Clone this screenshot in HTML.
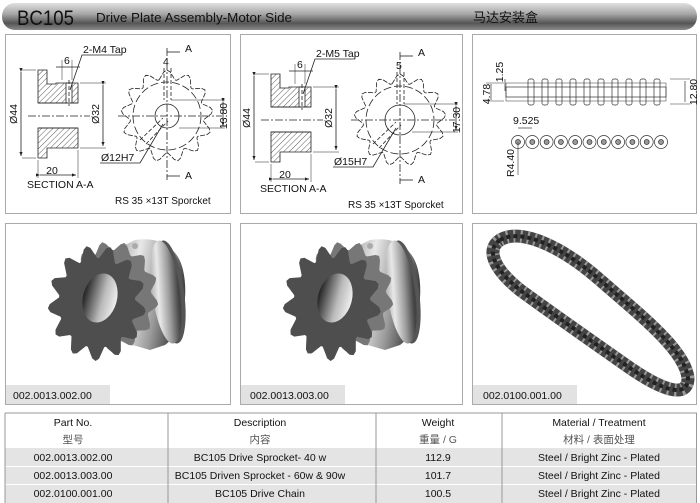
<!DOCTYPE html>
<html><head><meta charset="utf-8"><style>
html,body{margin:0;padding:0;background:#fff;width:700px;height:503px;overflow:hidden}
svg{display:block}
text{font-family:"Liberation Sans","Noto Sans CJK SC",sans-serif}
</style></head><body>
<svg id="s" width="700" height="503" viewBox="0 0 700 503" xmlns="http://www.w3.org/2000/svg">
<defs>
<linearGradient id="hdr" x1="0" y1="0" x2="0" y2="1">
<stop offset="0" stop-color="#e0e0e0"/><stop offset="0.4" stop-color="#a8a8a8"/><stop offset="0.75" stop-color="#555"/><stop offset="1" stop-color="#8a8a8a"/></linearGradient>
<linearGradient id="cyl" x1="0" y1="0" x2="1" y2="0.3">
<stop offset="0" stop-color="#9a9a9a"/><stop offset="0.35" stop-color="#e8e8e8"/><stop offset="0.7" stop-color="#9a9a9a"/><stop offset="1" stop-color="#444"/></linearGradient>
<linearGradient id="bore" x1="0" y1="0" x2="1" y2="0">
<stop offset="0" stop-color="#222"/><stop offset="0.6" stop-color="#bbb"/><stop offset="1" stop-color="#eee"/></linearGradient>
<pattern id="hatch" width="4" height="4" patternUnits="userSpaceOnUse" patternTransform="rotate(45)"><line x1="0" y1="0" x2="0" y2="4" stroke="#333" stroke-width="0.8"/></pattern>
<marker id="ar" markerWidth="6" markerHeight="6" refX="5" refY="3" orient="auto"><path d="M0,1 L5,3 L0,5z" fill="#222"/></marker>
</defs>
<rect x="2" y="3" width="695" height="27" rx="13" fill="url(#hdr)"/>
<text x="17" y="25" font-size="21" fill="#111" textLength="57" lengthAdjust="spacingAndGlyphs">BC105</text>
<text x="96" y="22" font-size="13" fill="#111" textLength="196" lengthAdjust="spacingAndGlyphs">Drive Plate Assembly-Motor Side</text>
<text x="473" y="22" font-size="13" fill="#111">马达安装盒</text>
<g fill="#fff" stroke="#aaa" stroke-width="1">
<rect x="5.5" y="34.5" width="225" height="179"/>
<rect x="240.5" y="34.5" width="222" height="179"/>
<rect x="472.5" y="34.5" width="224" height="179"/>
<rect x="5.5" y="223.5" width="225" height="181"/>
<rect x="240.5" y="223.5" width="222" height="181"/>
<rect x="472.5" y="223.5" width="224" height="181"/>
</g>
<g id="draw"></g>
<g font-size="10.5" fill="#111" text-anchor="middle">
<line x1="5" y1="413" x2="697" y2="413" stroke="#999"/>
<rect x="5" y="448" width="692" height="18" fill="#e4e4e4"/>
<rect x="5" y="467" width="692" height="17" fill="#e4e4e4"/>
<rect x="5" y="485" width="692" height="18" fill="#e4e4e4"/>
<g stroke="#999"><line x1="5" y1="413" x2="5" y2="503"/><line x1="696.5" y1="413" x2="696.5" y2="503"/><line x1="168" y1="413" x2="168" y2="503"/><line x1="376" y1="413" x2="376" y2="503"/><line x1="502" y1="413" x2="502" y2="503"/></g>
<text x="73" y="426">Part No.</text><text x="260" y="426">Description</text><text x="438" y="426">Weight</text><text x="599" y="426">Material / Treatment</text>
<text x="73" y="443" fill="#555">型号</text><text x="260" y="443" fill="#555">内容</text><text x="438" y="443" fill="#555">重量 / G</text><text x="599" y="443" fill="#555">材料 / 表面处理</text>
<text x="73" y="461">002.0013.002.00</text><text x="260" y="461">BC105 Drive Sprocket- 40 w</text><text x="438" y="461">112.9</text><text x="599" y="461">Steel / Bright Zinc - Plated</text>
<text x="73" y="479">002.0013.003.00</text><text x="260" y="479">BC105 Driven Sprocket - 60w &amp; 90w</text><text x="438" y="479">101.7</text><text x="599" y="479">Steel / Bright Zinc - Plated</text>
<text x="73" y="497">002.0100.001.00</text><text x="260" y="497">BC105 Drive Chain</text><text x="438" y="497">100.5</text><text x="599" y="497">Steel / Bright Zinc - Plated</text>
</g>
</svg>
<script>
var G=document.getElementById('draw');
function add(html){G.insertAdjacentHTML('beforeend',html);}
function gear(cx,cy,ro,ri,n,rot,sx){sx=sx||1;var p=[];for(var i=0;i<n;i++){var a=rot+i*2*Math.PI/n,w=Math.PI/n;
var pts=[[ri,a-w*0.9],[ro*0.96,a-w*0.3],[ro,a],[ro*0.96,a+w*0.3],[ri,a+w*0.9]];
pts.forEach(function(q){p.push((cx+sx*q[0]*Math.cos(q[1])).toFixed(1)+','+(cy+q[0]*Math.sin(q[1])).toFixed(1));});}
return p.join(' ');}
function tech(dx,dy,tap,key,dimv,bore,br){
var s='<g transform="translate('+dx+','+dy+')" stroke="#222" stroke-width="0.8" fill="none" font-size="10.5">';
s+='<path d="M38,70 H47 V84 H56 V83 H78 V103 H38 Z" fill="url(#hatch)"/><path d="M38,158 H47 V148 H78 V128 H38 Z" fill="url(#hatch)"/>';
s+='<rect x="66" y="83" width="6" height="20" fill="#fff"/><line x1="69" y1="80" x2="69" y2="106" stroke-dasharray="4,2"/>';
s+='<line x1="38" y1="103" x2="78" y2="103"/><line x1="38" y1="128" x2="78" y2="128"/><line x1="28" y1="116" x2="90" y2="116" stroke-dasharray="8,2,2,2"/>';
s+='<line x1="22" y1="70" x2="36" y2="70" stroke-width="0.5"/><line x1="22" y1="158" x2="36" y2="158" stroke-width="0.5"/>';
s+='<line x1="21" y1="72" x2="21" y2="156" marker-start="url(#ar)" marker-end="url(#ar)"/>';
s+='<line x1="80" y1="83" x2="106" y2="83" stroke-width="0.5"/><line x1="80" y1="148" x2="106" y2="148" stroke-width="0.5"/><line x1="103" y1="85" x2="103" y2="146" marker-start="url(#ar)" marker-end="url(#ar)"/>';
s+='<line x1="38" y1="160" x2="38" y2="178" stroke-width="0.5"/><line x1="78" y1="150" x2="78" y2="178" stroke-width="0.5"/><line x1="40" y1="175" x2="76" y2="175" marker-start="url(#ar)" marker-end="url(#ar)"/>';
s+='<line x1="62" y1="60" x2="62" y2="80" stroke-width="0.5"/><line x1="72" y1="60" x2="72" y2="80" stroke-width="0.5"/><line x1="56" y1="67" x2="80" y2="67"/>';
s+='<polyline points="122,55 82,55 70,90"/>';
s+='</g><g transform="translate('+dx+','+dy+')" fill="#111" stroke="none" font-size="10.5">';
s+='<text x="83" y="53">'+tap+'</text><text x="64" y="64">6</text><text x="52" y="174" text-anchor="middle">20</text><text x="27" y="188">SECTION A-A</text>';
s+='<text transform="translate(17,114) rotate(-90)" text-anchor="middle">Ø44</text><text transform="translate(99,114) rotate(-90)" text-anchor="middle">Ø32</text>';
s+='<text x="115" y="204" font-size="10">RS 35 ×13T Sporcket</text>';
s+='<text x="185" y="52">A</text><text x="185" y="179">A</text><text x="163" y="65">'+key+'</text>';
s+='<text transform="translate(227,116) rotate(-90)" text-anchor="middle">'+dimv+'</text><text x="101" y="161">'+bore+'</text>';
s+='</g><g transform="translate('+dx+','+dy+')" stroke="#222" stroke-width="0.8" fill="none">';
s+='<polygon points="'+gear(167,116,46,37,13,-Math.PI/2)+'" stroke-dasharray="5,1.5"/>';
s+='<circle cx="167" cy="116" r="34" stroke-dasharray="8,3"/><circle cx="167" cy="116" r="'+br+'"/>';
s+='<line x1="118" y1="116" x2="222" y2="116" stroke-dasharray="8,2,2,2"/><line x1="167" y1="48" x2="167" y2="180" stroke-dasharray="8,2,2,2"/>';
s+='<line x1="167" y1="52" x2="180" y2="52"/><line x1="167" y1="176" x2="180" y2="176"/>';
s+='<line x1="164" y1="68" x2="164" y2="100" stroke-dasharray="4,2"/><line x1="171" y1="68" x2="171" y2="100" stroke-dasharray="4,2"/>';
s+='<line x1="171" y1="100" x2="225" y2="100" stroke-width="0.5"/><line x1="179" y1="128" x2="225" y2="128" stroke-width="0.5"/><line x1="223" y1="102" x2="223" y2="126" marker-start="url(#ar)" marker-end="url(#ar)"/>';
s+='<line x1="140" y1="140" x2="163" y2="118" stroke-dasharray="4,2"/><line x1="146" y1="144" x2="168" y2="121" stroke-dasharray="4,2"/>';
s+='<polyline points="100,163 140,163 163,124"/></g>';
add(s);}
tech(0,0,'2-M4 Tap','4','13.80','Ø12H7',12);
tech(233,4,'2-M5 Tap','5','17.30','Ø15H7',15);
var c='<g stroke="#333" stroke-width="0.7" fill="none">';
c+='<rect x="506" y="87" width="160" height="10"/><rect x="506" y="83" width="160" height="18" stroke-width="0.5"/>';
for(var i=0;i<10;i++){var x=531+i*14;c+='<rect x="'+(x-3)+'" y="79" width="6" height="26" rx="2"/>';}
c+='<line x1="486" y1="83" x2="504" y2="83" stroke-width="0.5"/><line x1="486" y1="101" x2="504" y2="101" stroke-width="0.5"/><line x1="491" y1="84" x2="491" y2="100"/>';
c+='<line x1="505" y1="79" x2="505" y2="91"/><line x1="670" y1="79" x2="690" y2="79" stroke-width="0.5"/><line x1="670" y1="104" x2="690" y2="104" stroke-width="0.5"/><line x1="685" y1="81" x2="685" y2="102"/>';
for(var i=0;i<11;i++){var x=518+i*14.3;c+='<circle cx="'+x+'" cy="142" r="6.5"/><circle cx="'+x+'" cy="142" r="2.5" fill="#999"/>';}
c+='<line x1="518" y1="128" x2="532" y2="128" /><line x1="518" y1="142" x2="518" y2="175" stroke-width="0.6"/></g>';
c+='<g font-size="10.5" fill="#111"><text transform="translate(490,94) rotate(-90)" text-anchor="middle">4.78</text><text transform="translate(503,72) rotate(-90)" text-anchor="middle">1.25</text><text transform="translate(697,92) rotate(-90)" text-anchor="middle">12.80</text><text x="513" y="124">9.525</text><text transform="translate(514,163) rotate(-90)" text-anchor="middle">R4.40</text></g>';
add(c);
function photo(dx){
var s='<g transform="translate('+dx+',0)">';
s+='<path d="M115,250 L135,240 C160,236 178,248 183,270 C190,300 180,335 165,345 L150,350 L115,340 Z" fill="url(#cyl)"/>';
s+='<ellipse cx="170" cy="292" rx="14" ry="52" fill="#555" transform="rotate(-8 170 292)"/>';
s+='<ellipse cx="166" cy="292" rx="14" ry="52" fill="url(#cyl)" transform="rotate(-8 166 292)"/>';
s+='<polygon points="'+gear(112,296,55,46,13,-1.3,0.85)+'" fill="#777"/>';
s+='<polygon points="'+gear(97,303,58,45,13,-1.3,0.85)+'" fill="#4e4e4e"/>';
s+='<ellipse cx="100" cy="298" rx="17" ry="25" fill="url(#bore)" transform="rotate(15 100 298)"/>';
s+='<circle cx="135" cy="246" r="3" fill="#aaa"/></g>';
add(s);}
photo(0);photo(235);
add('<g fill="#e2e2e2"><rect x="6" y="385" width="104" height="19"/><rect x="241" y="385" width="104" height="19"/><rect x="473" y="385" width="104" height="19"/></g><g font-size="10.5" fill="#111"><text x="13" y="399">002.0013.002.00</text><text x="250" y="399">002.0013.003.00</text><text x="483" y="399">002.0100.001.00</text></g>');
var P='M500,240 C520,228 560,245 600,280 C640,315 685,350 688,378 C688,398 665,392 630,368 C590,340 550,312 520,290 C495,270 485,250 500,240 Z';
add('<g fill="none" stroke-linecap="butt"><path d="'+P+'" stroke="#444" stroke-width="13"/><path d="'+P+'" stroke="#999" stroke-width="13" stroke-dasharray="2,5"/><path d="'+P+'" stroke="#222" stroke-width="4" stroke-dasharray="4,3"/></g>');
</script>
</body></html>
